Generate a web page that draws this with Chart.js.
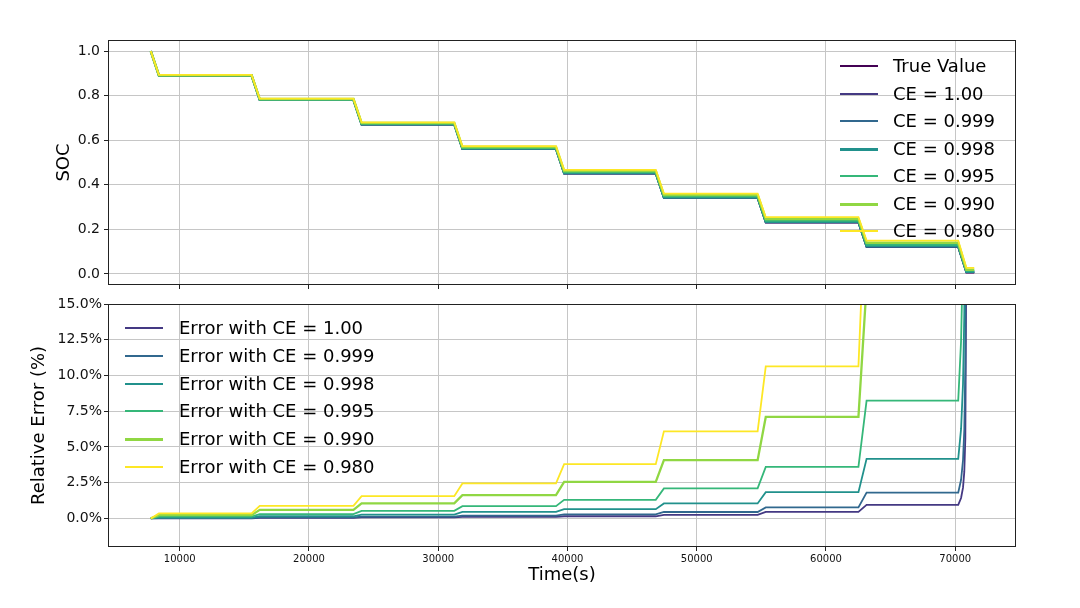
<!DOCTYPE html>
<html>
<head>
<meta charset="utf-8">
<script src="https://cdn.jsdelivr.net/npm/chart.js@4.4.1/dist/chart.umd.min.js"></script>
<style>
  html, body { margin: 0; padding: 0; background: #fff; }
  #wrap { position: relative; width: 1080px; height: 608px; overflow: hidden; font-family: 'DejaVu Sans', sans-serif; }
  #wrap canvas { position: absolute; left: 0; }
  #soc-chart { top: 0; }
  #err-chart { top: 290px; }
  .legend { position: absolute; left: 0; top: 0; width: 0; height: 0; }
  .legend .swatch { position: absolute; width: 38px; }
  .legend .txt { position: absolute; font-size: 18px; line-height: 20px; white-space: nowrap; color: #000; }
</style>
</head>
<body>
<div id="wrap">
  <canvas id="soc-chart" width="1080" height="300"></canvas>
  <canvas id="err-chart" width="1080" height="318"></canvas>
  <div id="soc-legend" class="legend"></div>
  <div id="err-legend" class="legend"></div>
</div>
<script>
(function () {
  'use strict';

  // time axis (s) and ticks
  var xTicks = [10000, 20000, 30000, 40000, 50000, 60000, 70000];
  var socTicks = [0, 0.2, 0.4, 0.6, 0.8, 1.0];
  var errTicks = [0, 2.5, 5, 7.5, 10, 12.5, 15];

  // upper panel: SOC
  var socTimes = [7760, 8390, 15560, 16190, 23440, 24070, 31240, 31870, 39110, 39740, 46830, 47460, 54710, 55340, 62510, 63140, 70230, 70860, 71470];
  var socLabels = ['True Value', 'CE = 1.00', 'CE = 0.999', 'CE = 0.998', 'CE = 0.995', 'CE = 0.990', 'CE = 0.980'];
  var socTrue  = [1.0, 0.89, 0.89, 0.78, 0.78, 0.67, 0.67, 0.56, 0.56, 0.45, 0.45, 0.34, 0.34, 0.23, 0.23, 0.12, 0.12, 0.006, 0.006];
  var soc1000  = [1.0, 0.8901, 0.8901, 0.7803, 0.7803, 0.6705, 0.6705, 0.5606, 0.5606, 0.4507, 0.4507, 0.3408, 0.3408, 0.2311, 0.2311, 0.1211, 0.1211, 0.007, 0.007];
  var soc999   = [1.0, 0.8902, 0.8902, 0.7805, 0.7805, 0.6708, 0.6708, 0.5611, 0.5611, 0.4513, 0.4513, 0.3415, 0.3415, 0.2318, 0.2318, 0.1222, 0.1222, 0.008, 0.008];
  var soc998   = [1.0, 0.8905, 0.8905, 0.7812, 0.7812, 0.6718, 0.6718, 0.5626, 0.5626, 0.4529, 0.4529, 0.3436, 0.3436, 0.2342, 0.2342, 0.1250, 0.1250, 0.010, 0.010];
  var soc995   = [1.0, 0.8911, 0.8911, 0.7823, 0.7823, 0.6736, 0.6736, 0.5648, 0.5648, 0.4559, 0.4559, 0.3471, 0.3471, 0.2383, 0.2383, 0.1299, 0.1299, 0.014, 0.014];
  var soc990   = [1.0, 0.8920, 0.8920, 0.7847, 0.7847, 0.6770, 0.6770, 0.5691, 0.5691, 0.4615, 0.4615, 0.3539, 0.3539, 0.2463, 0.2463, 0.1396, 0.1396, 0.019, 0.019];
  var soc980   = [1.0, 0.8931, 0.8931, 0.7869, 0.7869, 0.6805, 0.6805, 0.5737, 0.5737, 0.4671, 0.4671, 0.3607, 0.3607, 0.2545, 0.2545, 0.1493, 0.1493, 0.027, 0.027];

  // lower panel: relative error (%)
  var errTimes = [7760, 8390, 15560, 16190, 23440, 24070, 31240, 31870, 39110, 39740, 46830, 47460, 54710, 55340, 62510, 63140, 70230, 70450, 70600, 70700, 70780, 70860, 71470];
  var errLabels = ['Error with CE = 1.00', 'Error with CE = 0.999', 'Error with CE = 0.998', 'Error with CE = 0.995', 'Error with CE = 0.990', 'Error with CE = 0.980'];
  var err1000 = [0, 0.01, 0.01, 0.04, 0.04, 0.07, 0.07, 0.11, 0.11, 0.15, 0.15, 0.25, 0.25, 0.46, 0.46, 0.95, 0.95, 1.43, 2.15, 3.27, 5.6, 19, 19];
  var err999  = [0, 0.025, 0.025, 0.07, 0.07, 0.12, 0.12, 0.2, 0.2, 0.28, 0.28, 0.45, 0.45, 0.77, 0.77, 1.8, 1.8, 2.7, 4.07, 6.2, 10.6, 36, 36];
  var err998  = [0, 0.06, 0.06, 0.15, 0.15, 0.27, 0.27, 0.46, 0.46, 0.65, 0.65, 1.05, 1.05, 1.84, 1.84, 4.17, 4.17, 6.26, 9.4, 14.3, 24.6, 83, 83];
  var err995  = [0, 0.12, 0.12, 0.3, 0.3, 0.53, 0.53, 0.86, 0.86, 1.3, 1.3, 2.1, 2.1, 3.6, 3.6, 8.24, 8.24, 12.4, 18.6, 28.3, 48.6, 165, 165];
  var err990  = [0, 0.23, 0.23, 0.6, 0.6, 1.05, 1.05, 1.63, 1.63, 2.56, 2.56, 4.08, 4.08, 7.1, 7.1, 16.3, 16.3, 24.5, 36.8, 56, 96, 326, 326];
  var err980  = [0, 0.35, 0.35, 0.88, 0.88, 1.56, 1.56, 2.45, 2.45, 3.8, 3.8, 6.09, 6.09, 10.64, 10.64, 24.4, 24.4, 36.6, 55, 84, 144, 488, 488];

  var viridis = ['#440154', '#443983', '#31688e', '#21918c', '#35b779', '#90d743', '#fde725'];
  var FONT = "'DejaVu Sans', sans-serif";

  function points(times, values) {
    return times.map(function (t, i) { return { x: t, y: values[i] }; });
  }

  function makeDatasets(times, series, labels, colors, widths) {
    return series.map(function (vals, i) {
      return {
        label: labels[i],
        data: points(times, vals),
        borderColor: colors[i],
        backgroundColor: colors[i],
        borderWidth: widths[i],
        pointRadius: 0,
        tension: 0,
        fill: false,
        order: series.length - i
      };
    });
  }

  var framePlugin = {
    id: 'frame',
    afterDatasetsDraw: function (chart) {
      var a = chart.chartArea, ctx = chart.ctx;
      ctx.save();
      ctx.strokeStyle = '#222';
      ctx.lineWidth = 1;
      ctx.strokeRect(Math.round(a.left) + 0.5, Math.round(a.top) + 0.5,
        Math.round(a.right - a.left) - 1, Math.round(a.bottom - a.top) - 1);
      ctx.restore();
    }
  };

  function makeChart(canvas, datasets, cfg) {
    return new Chart(canvas.getContext('2d'), {
      type: 'line',
      data: { datasets: datasets },
      plugins: [framePlugin],
      options: {
        responsive: false,
        animation: false,
        events: [],
        layout: { padding: cfg.padding },
        plugins: { legend: { display: false }, tooltip: { enabled: false } },
        scales: {
          x: {
            type: 'linear',
            min: 4450,
            max: 74700,
            afterBuildTicks: function (s) { s.ticks = xTicks.map(function (v) { return { value: v }; }); },
            afterFit: function (s) { s.height = cfg.xHeight; },
            border: { display: false },
            grid: { color: '#c6c6c6', lineWidth: 1, tickColor: '#222', tickLength: 4 },
            ticks: {
              display: cfg.xLabels,
              padding: 2,
              maxRotation: 0,
              color: '#111',
              font: { family: FONT, size: 10 },
              callback: function (v) { return String(v); }
            },
            title: {
              display: cfg.xLabels,
              text: 'Time(s)',
              color: '#000',
              font: { family: FONT, size: 18 },
              padding: { top: 0, bottom: 22 }
            }
          },
          y: {
            min: cfg.yMin,
            max: cfg.yMax,
            afterBuildTicks: function (s) { s.ticks = cfg.yTicks.map(function (v) { return { value: v }; }); },
            afterFit: function (s) { s.width = 108; },
            border: { display: false },
            grid: { color: '#c6c6c6', lineWidth: 1, tickColor: '#222', tickLength: 4 },
            ticks: {
              padding: cfg.yPad,
              color: '#111',
              font: { family: FONT, size: 14 },
              callback: cfg.yFormat
            },
            title: {
              display: true,
              text: cfg.yTitle,
              color: '#000',
              font: { family: FONT, size: 18 },
              padding: { top: cfg.yTitleOffset, bottom: 0 }
            }
          }
        }
      }
    });
  }

  function buildLegend(el, labels, colors, widths, lineLeft, textLeft, firstY, step) {
    labels.forEach(function (lab, i) {
      var y = Math.round(firstY + i * step);
      var h = widths[i] > 2.2 ? 3 : 2;
      var sw = document.createElement('div');
      sw.className = 'swatch';
      sw.style.left = lineLeft + 'px';
      sw.style.top = (y - 1) + 'px';
      sw.style.height = h + 'px';
      sw.style.background = colors[i];
      el.appendChild(sw);
      var tx = document.createElement('div');
      tx.className = 'txt';
      tx.style.left = textLeft + 'px';
      tx.style.top = (y - 10) + 'px';
      tx.textContent = lab;
      el.appendChild(tx);
    });
  }

  document.addEventListener('DOMContentLoaded', function () {
    if (typeof Chart === 'undefined') return;

    var socWidths = [1.8, 1.8, 1.8, 2.5, 1.8, 2.5, 1.8];
    makeChart(document.getElementById('soc-chart'),
      makeDatasets(socTimes, [socTrue, soc1000, soc999, soc998, soc995, soc990, soc980], socLabels, viridis, socWidths),
      {
        padding: { left: 0, right: 64, top: 40, bottom: 0 },
        xHeight: 15,
        xLabels: false,
        yMin: -0.05, yMax: 1.05, yTicks: socTicks, yPad: 4,
        yFormat: function (v) { return Number(v).toFixed(1); },
        yTitle: 'SOC', yTitleOffset: 54
      });

    var errColors = viridis.slice(1);
    var errWidths = [1.8, 1.8, 1.8, 1.8, 2.3, 1.8];
    makeChart(document.getElementById('err-chart'),
      makeDatasets(errTimes, [err1000, err999, err998, err995, err990, err980], errLabels, errColors, errWidths),
      {
        padding: { left: 0, right: 64, top: 14, bottom: 0 },
        xHeight: 61,
        xLabels: true,
        yMin: -2, yMax: 15, yTicks: errTicks, yPad: 2,
        yFormat: function (v) { return Number(v).toFixed(1) + '%'; },
        yTitle: 'Relative Error (%)', yTitleOffset: 29
      });

    buildLegend(document.getElementById('soc-legend'), socLabels, viridis, socWidths, 840, 893, 66, 27.5);
    buildLegend(document.getElementById('err-legend'), errLabels, errColors, errWidths, 125, 179, 328, 27.8);
  });
})();
</script>
</body>
</html>
